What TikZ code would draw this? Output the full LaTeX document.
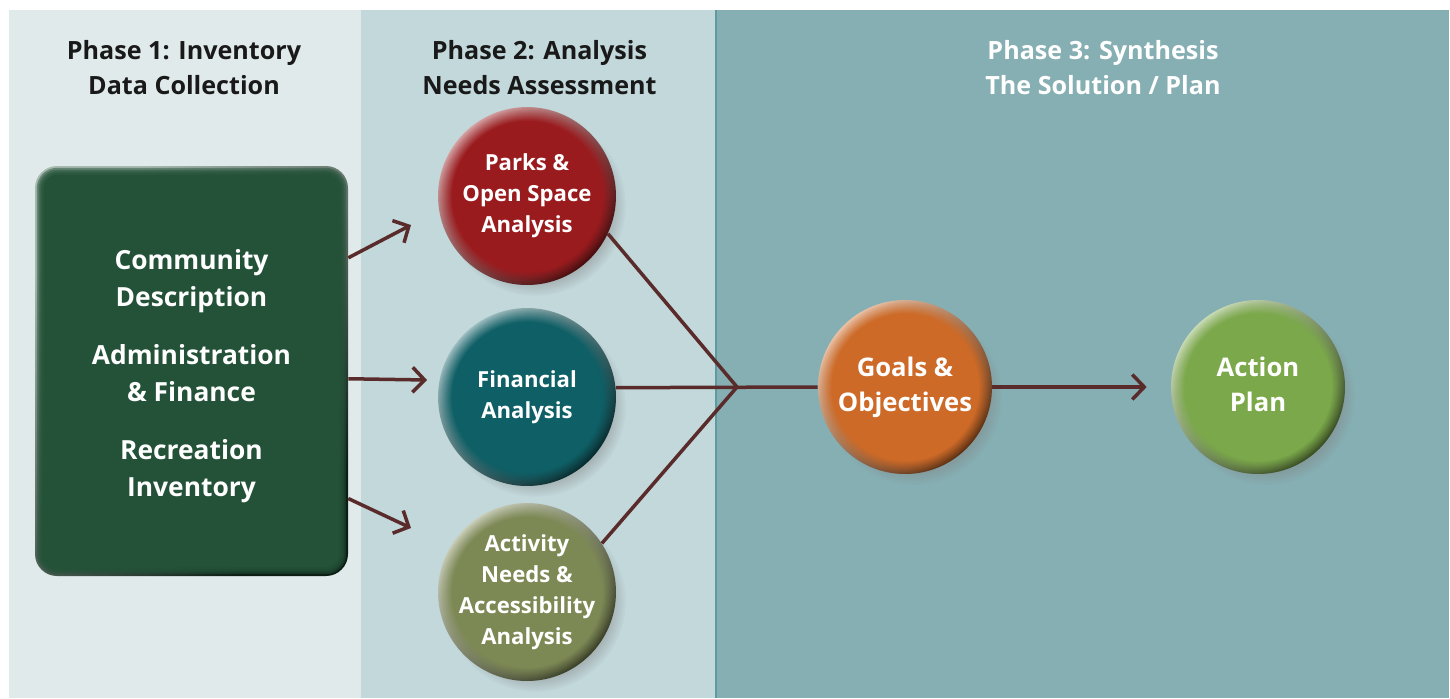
\documentclass[tikz,border=0pt]{standalone}
\usepackage{fontspec}
\setmainfont{Open Sans}
\usepackage{tikz}
\usetikzlibrary{arrows.meta}
\usetikzlibrary{shadows}
\usetikzlibrary{fadings}
\definecolor{phaseA}{HTML}{E1EAEB}
\definecolor{phaseB}{HTML}{C2D8DB}
\definecolor{phaseC}{HTML}{86AFB3}
\definecolor{phaseline}{HTML}{5E9BA0}
\definecolor{inventory}{HTML}{235238}
\definecolor{parks}{HTML}{9A1B1E}
\definecolor{finance}{HTML}{0E5F66}
\definecolor{activity}{HTML}{7D8955}
\definecolor{goals}{HTML}{CD6A27}
\definecolor{action}{HTML}{7BA84A}
\definecolor{flow}{HTML}{5A2B2B}

% flat middle, soft rim
\pgfdeclareradialshading{rimshade}{\pgfpointorigin}{color(0bp)=(white); color(21bp)=(white); color(25bp)=(black); color(50bp)=(black)}
\pgfdeclarefading{rimfade}{\pgfuseshading{rimshade}}

\tikzset{
  phase/.style={align=center, font=\fontsize{14.3}{19.8}\selectfont\bfseries, text=black!90},
  inventorybox/.style={rectangle, minimum width=6.26cm, minimum height=8.2cm, text=white,
    align=center, font=\fontsize{15}{21}\selectfont\bfseries},
  ball/.style={circle, inner sep=-0.2cm, minimum size=3.56cm, align=center, text=white,
    font=\fontsize{12.6}{17.6}\selectfont\bfseries,
    circular drop shadow={shadow xshift=0.16cm, shadow yshift=-0.18cm, opacity=0.4, shadow scale=1.02},
    top color=#1!40!white, bottom color=#1!40!black, shading angle=45,
    postaction={fill=#1, path fading=rimfade}},
  bigball/.style={ball=#1, minimum size=3.48cm, font=\fontsize{14.6}{19.8}\selectfont\bfseries},
  flowline/.style={draw=flow, line width=0.07cm},
  flowarrow/.style={flowline, -{Straight Barb[length=0.24cm, width=0.5cm]}}
}

\begin{document}
\begin{tikzpicture}[x=0.02cm, y=-0.02cm]
    \useasboundingbox (0,0) rectangle (1450,698);

    % phase panels
    \fill[phaseA] (9,10) rectangle (361,698);
    \fill[phaseB] (361,10) rectangle (716,698);
    \fill[phaseC] (716,10) rectangle (1449,698);
    \draw[phaseline, line width=0.6pt] (716,10) -- (716,698);

    % headings
    \node[phase] (headA) at (184,67.5) {Phase 1: Inventory\\Data Collection};
    \node[phase] (headB) at (539.5,67.5) {Phase 2: Analysis\\Needs Assessment};
    \node[phase, text=white] (headC) at (1103,67.5) {Phase 3: Synthesis\\The Solution / Plan};

    % inventory box, bevelled edge
    \shade[top color=inventory!40!white, bottom color=inventory!35!black, shading angle=45,
      rounded corners=0.44cm] (35,166) rectangle (348,576);
    \foreach \i in {1,...,5}
      \fill[inventory, opacity=0.5, rounded corners=0.44cm-\i*0.03cm] (35+\i*1.8,166+\i*1.8) rectangle (348-\i*1.8,576-\i*1.8);
    \fill[inventory, rounded corners=0.26cm] (44,175) rectangle (339,567);
    \node[inventorybox] (inv) at (191.5,376) {Community\\Description\\[12pt]Administration\\\&~Finance\\[12pt]Recreation\\Inventory};

    % analysis balls
    \node[ball=parks] (parks) at (527,196) {Parks \&\\Open Space\\Analysis};
    \node[ball=finance] (finance) at (527,397) {Financial\\Analysis};
    \node[ball=activity] (activity) at (527,592) {Activity\\Needs \&\\Accessibility\\Analysis};

    % synthesis balls
    \node[bigball=goals] (goals) at (905,387) {Goals \&\\Objectives};
    \node[bigball=action] (action) at (1258,387) {Action\\Plan\vphantom{j}};

    % arrows out of the inventory
    \coordinate (tipA) at (411,225);
    \coordinate (tipB) at (427,380);
    \coordinate (tipC) at (411,528);
    \draw[flowarrow] (inv.37.7) -- (tipA);
    \draw[flowarrow] (inv.-1.5) -- (tipB);
    \draw[flowarrow] (inv.-38) -- (tipC);

    % analysis joins into goals
    \coordinate (join) at (737,387);
    \draw[flowline] (parks.-25) -- (join);
    \draw[flowline] (activity.33) -- (join);
    \draw[flowline] (finance.6.5) -- (goals.west);
    \draw[flowarrow, shorten >=0.48cm] (goals) -- (action);
\end{tikzpicture}
\end{document}
